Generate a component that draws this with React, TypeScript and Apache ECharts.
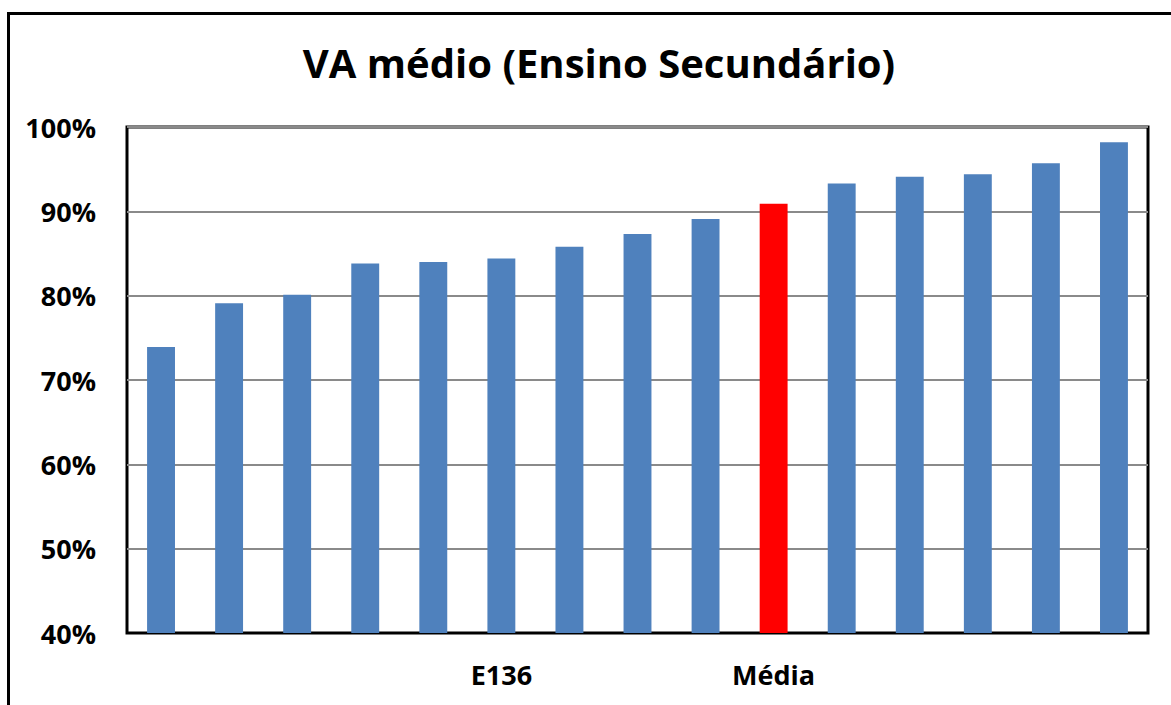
import React, { useEffect, useRef } from "react";
import * as echarts from "echarts";

const TITLE = "VA médio (Ensino Secundário)";
const categories = ["", "", "", "", "", "E136", "", "", "", "Média", "", "", "", "", ""];
const values = [73.9, 79.1, 80.1, 83.8, 84.0, 84.4, 85.8, 87.3, 89.1, 90.9, 93.3, 94.1, 94.4, 95.7, 98.2];
const highlightIndex = 9;
const yMin = 40;
const yMax = 100;
const yStep = 10;

const FONT = "'Open Sans', 'Noto Sans', sans-serif";

export default function App() {
  const ref = useRef<HTMLDivElement>(null);
  useEffect(() => {
    if (!ref.current) return;
    const chart = echarts.init(ref.current, undefined, { renderer: "svg" });
    chart.setOption({
      animation: false,
      backgroundColor: "#fff",
      title: {
        text: TITLE,
        left: 594,
        textAlign: "center",
        top: 37,
        textStyle: { fontFamily: FONT, fontWeight: "bold", fontSize: 40, color: "#000" },
      },
      grid: {
        left: 127,
        top: 127,
        right: 23,
        bottom: 72,
        show: true,
        borderColor: "#000",
        borderWidth: 3,
      },
      xAxis: {
        type: "category",
        data: categories,
        axisTick: { show: false },
        axisLine: { show: true, lineStyle: { color: "#000", width: 2 } },
        axisLabel: {
          interval: 0,
          margin: 28,
          fontFamily: FONT,
          fontWeight: "bold",
          fontSize: 27,
          color: "#000",
        },
      },
      yAxis: {
        type: "value",
        min: yMin,
        max: yMax,
        interval: yStep,
        axisLine: { show: false },
        axisTick: { show: false },
        splitLine: { show: true, lineStyle: { color: "#8a8a8a", width: 2 } },
        axisLabel: {
          formatter: "{value}%",
          margin: 31,
          fontFamily: FONT,
          fontWeight: "bold",
          fontSize: 27,
          color: "#000",
        },
      },
      series: [
        {
          type: "bar",
          barWidth: "41%",
          data: values.map((v, i) => ({
            value: v,
            itemStyle: { color: i === highlightIndex ? "#FF0000" : "#4F81BD" },
          })),
        },
      ],
      graphic: [
        {
          type: "rect",
          shape: { x: 8.5, y: 13.5, width: 1300, height: 900 },
          style: { fill: "none", stroke: "#000", lineWidth: 3 },
          silent: true,
        },
      ],
    });
    return () => chart.dispose();
  }, []);
  return (
    <div
      ref={ref}
      style={{ position: "fixed", left: 0, top: 0, width: 1171, height: 705 }}
    />
  );
}
